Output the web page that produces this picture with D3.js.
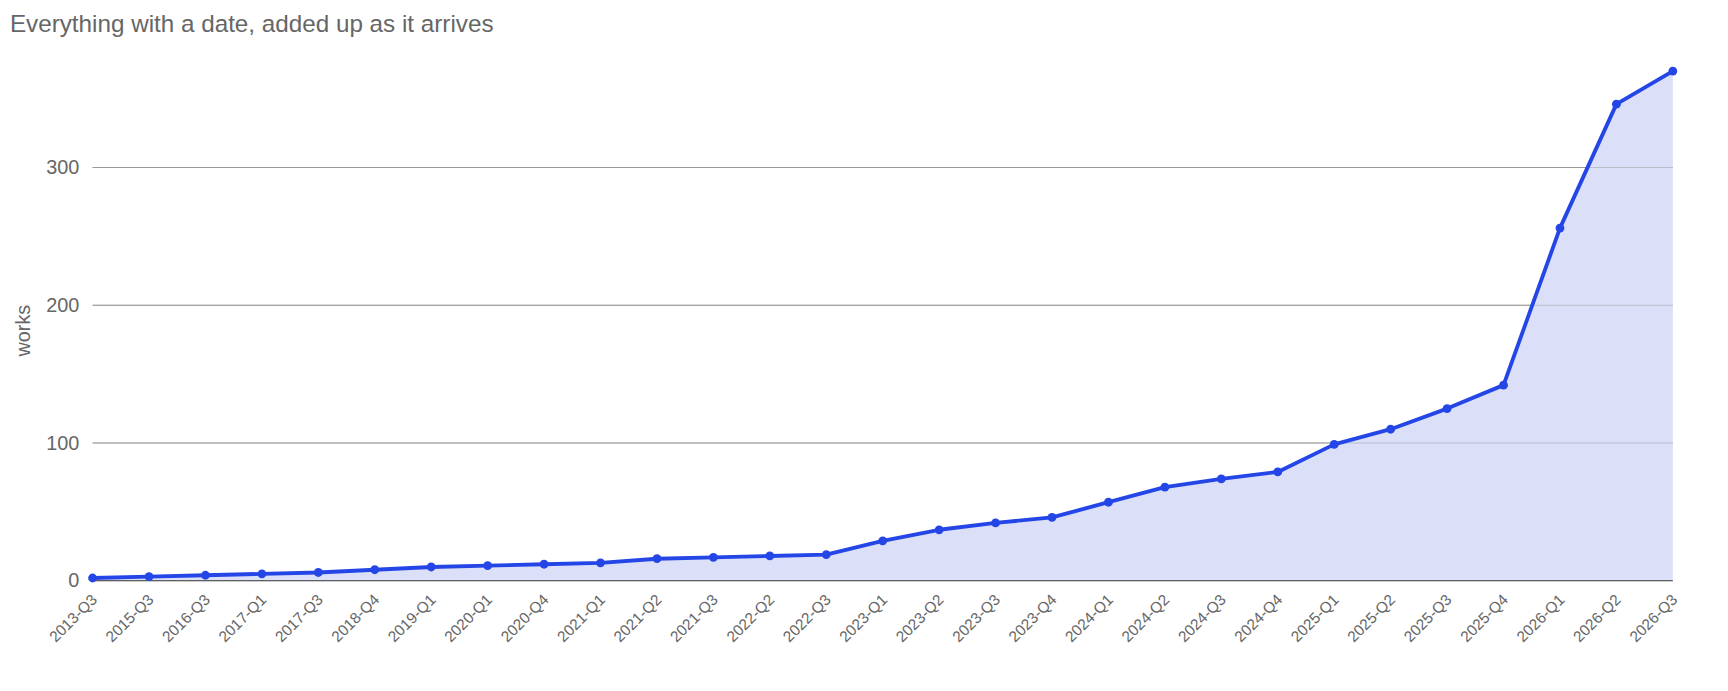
<!DOCTYPE html>
<html><head><meta charset="utf-8">
<script src="https://cdn.jsdelivr.net/npm/d3@7"></script>
<style>body{margin:0;background:#fff;font-family:Arial,"Liberation Sans",sans-serif}</style>
</head><body><svg id="c" width="1728" height="691"></svg>
<script>
const categories=["2013-Q3","2015-Q3","2016-Q3","2017-Q1","2017-Q3","2018-Q4","2019-Q1","2020-Q1","2020-Q4","2021-Q1","2021-Q2","2021-Q3","2022-Q2","2022-Q3","2023-Q1","2023-Q2","2023-Q3","2023-Q4","2024-Q1","2024-Q2","2024-Q3","2024-Q4","2025-Q1","2025-Q2","2025-Q3","2025-Q4","2026-Q1","2026-Q2","2026-Q3"];
const values=[2,3,4,5,6,8,10,11,12,13,16,17,18,19,29,37,42,46,57,68,74,79,99,110,125,142,256,346,370];
const yTicks=[0,100,200,300];
const svg=d3.select("#c").append("g").attr("transform","scale(1.102)");
const x=d3.scalePoint().domain(categories).range([84,1518]);
const y=d3.scaleLinear().domain([0,370]).range([527,64.5]);
svg.append("text").attr("x",9).attr("y",29).attr("font-size",22).attr("fill","#666").text("Everything with a date, added up as it arrives");
const g=svg.append("g");
g.selectAll("line.grid").data(yTicks.filter(d=>d>0)).join("line").attr("x1",84).attr("x2",1518).attr("y1",d=>y(d)).attr("y2",d=>y(d)).attr("stroke","#999").attr("stroke-width",1);
g.selectAll("text.yt").data(yTicks).join("text").attr("x",72).attr("y",d=>y(d)+6).attr("text-anchor","end").attr("font-size",18).attr("fill","#666").text(d=>d);
svg.append("text").attr("transform","translate(27,300) rotate(-90)").attr("text-anchor","middle").attr("font-size",18).attr("fill","#666").text("works");
const data=categories.map((c,i)=>({c,v:values[i]}));
g.append("path").datum(data).attr("fill","#dbe0f8").attr("d",d3.area().x(d=>x(d.c)).y0(y(0)).y1(d=>y(d.v)));
g.append("line").attr("x1",84).attr("x2",1518).attr("y1",y(0)).attr("y2",y(0)).attr("stroke","#333");
g.selectAll("line.grid2").data(yTicks.filter(d=>d>0)).join("line").attr("x1",84).attr("x2",1518).attr("y1",d=>y(d)).attr("y2",d=>y(d)).attr("stroke","#999").attr("stroke-opacity",0.5);
g.append("path").datum(data).attr("fill","none").attr("stroke","#2446e6").attr("stroke-width",3.5).attr("stroke-linejoin","round").attr("d",d3.line().x(d=>x(d.c)).y(d=>y(d.v)));
g.selectAll("circle").data(data).join("circle").attr("cx",d=>x(d.c)).attr("cy",d=>y(d.v)).attr("r",4).attr("fill","#2446e6");
g.selectAll("text.xt").data(categories).join("text").attr("text-anchor","end").attr("font-size",14).attr("fill","#666")
 .attr("transform",d=>`translate(${x(d)+5},${545}) rotate(-45)`).text(d=>d);
</script></body></html>
